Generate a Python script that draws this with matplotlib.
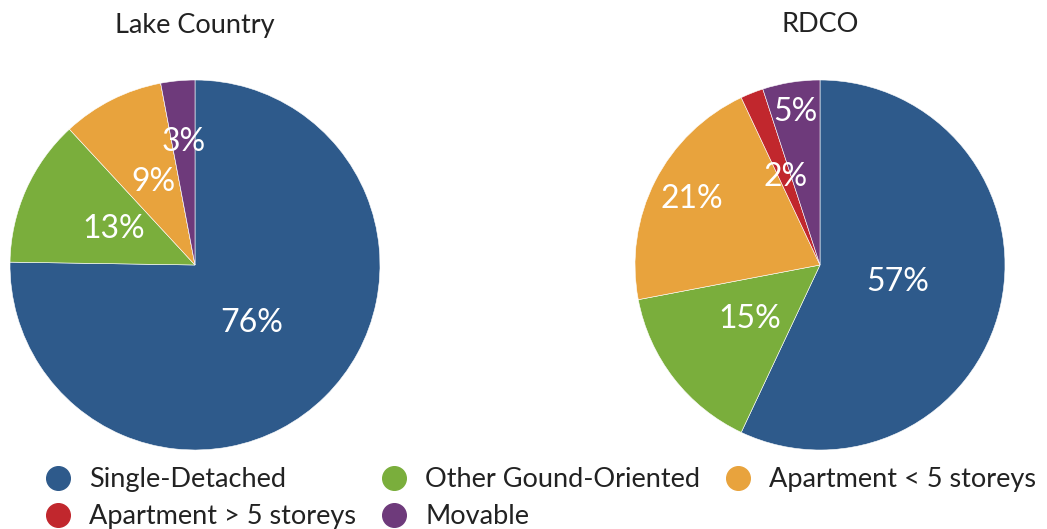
import matplotlib.pyplot as plt
import numpy as np
from matplotlib.lines import Line2D

plt.rcParams['font.family'] = ['Lato', 'DejaVu Sans']

categories = ['Single-Detached', 'Other Gound-Oriented', 'Apartment < 5 storeys',
              'Apartment > 5 storeys', 'Movable']
colors = ['#2E5A8B', '#7AAE3C', '#E8A33D', '#C1272D', '#6E3A7B']

# share of dwellings by structure type (%)
lake_country = [76, 13, 9, 0, 3]
rdco = [57, 15, 21, 2, 5]

# radial position of each percentage label (fraction of radius)
lake_lbl_r = [0.44, 0.48, 0.50, 0.5, 0.67]
rdco_lbl_r = [0.43, 0.48, 0.78, 0.51, 0.84]

fig = plt.figure(figsize=(10.47, 5.29), dpi=100)


def draw_pie(rect, vals, lbl_r, title, title_x):
    ax = fig.add_axes(rect)
    wedges, _ = ax.pie(vals, colors=colors, startangle=90, counterclock=False,
                       wedgeprops=dict(edgecolor='white', linewidth=0.4))
    for w, v, r in zip(wedges, vals, lbl_r):
        if v <= 0:
            continue
        ang = np.deg2rad((w.theta1 + w.theta2) / 2)
        ax.text(r * np.cos(ang), r * np.sin(ang), '%d%%' % v, color='white',
                fontsize=23, ha='center', va='center')
    ax.set_xlim(-1, 1)
    ax.set_ylim(-1, 1)
    ax.set_aspect('equal')
    fig.text(title_x, 1 - 25 / 529, title, fontsize=19.5, ha='center', va='center',
             color='#222222')


draw_pie([10 / 1047, 79 / 529, 370 / 1047, 370 / 529], lake_country, lake_lbl_r,
         'Lake Country', 195 / 1047)
draw_pie([635 / 1047, 79 / 529, 370 / 1047, 370 / 529], rdco, rdco_lbl_r,
         'RDCO', 820 / 1047)

handles = [Line2D([], [], marker='o', linestyle='none', markersize=17,
                  markerfacecolor=c, markeredgecolor=c) for c in colors]
# legend fills column by column, so reorder to read across rows
order = [0, 3, 1, 4, 2]
fig.legend([handles[i] for i in order], [categories[i] for i in order],
           ncol=3, loc='upper left', bbox_to_anchor=(44 / 1047, 1 - 467 / 529),
           frameon=False, fontsize=19.5, handletextpad=0.67, columnspacing=0.88,
           labelspacing=0.45, borderpad=0, borderaxespad=0, handlelength=1.0,
           labelcolor='#222222')

fig.savefig('out.png', dpi=100)
